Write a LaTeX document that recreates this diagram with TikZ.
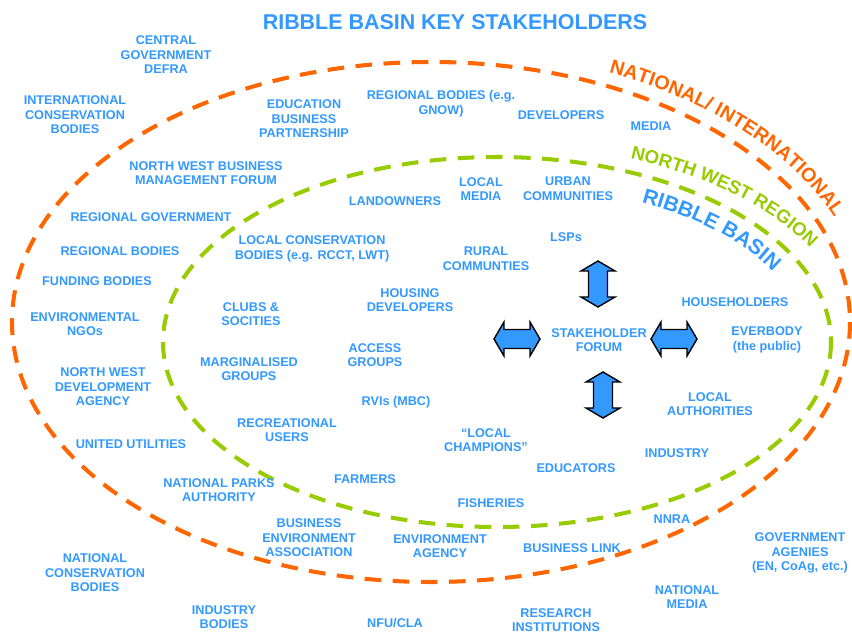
\documentclass[tikz,border=0pt]{standalone}
\usepackage{fontspec}
\setmainfont{Liberation Sans}
\usetikzlibrary{decorations.text}
\definecolor{bleuR}{HTML}{3399FF}
\definecolor{orangeN}{HTML}{FF6600}
\definecolor{vertNO}{HTML}{99CC00}

\begin{document}
\begin{tikzpicture}[x=0.2mm,y=-0.2mm]
\tikzstyle{acteur}=[inner sep=0pt,align=center,text=bleuR,font=\bfseries\fontsize{7.2}{8.3}\selectfont]
\tikzset{bord/.style={draw=#1,line width=2.3pt,dash pattern=on 9.5pt off 6.5pt},
fleche/.pic={\draw[fill=bleuR,line width=0.8pt] (-23,0) -- (-13,-17) -- (-13,-9.5) -- (13,-9.5) -- (13,-17) -- (23,0) -- (13,17) -- (13,9.5) -- (-13,9.5) -- (-13,17) -- cycle;}}

\fill[white] (0,0) rectangle (852,632);
\useasboundingbox (0,0) rectangle (852,632);

% les deux cercles en pointilles
\draw[bord=orangeN] (431,322) ellipse [x radius=419,y radius=260];
\draw[bord=vertNO] (497,342) ellipse [x radius=334,y radius=185];

% titres courbes
\path[decorate,decoration={text along path,text align=left,
  text={|\bfseries\fontsize{11.2}{13}\selectfont\color{orangeN}|NATIONAL/ INTERNATIONAL}}]
  (431,322) ++(-66:437 and 273) arc[start angle=-66,end angle=-5,x radius=437,y radius=273];
\path[decorate,decoration={text along path,text align=left,
  text={|\bfseries\fontsize{10.6}{12}\selectfont\color{vertNO}|NORTH WEST REGION}}]
  (497,342) ++(-68:356 and 198) arc[start angle=-68,end angle=-10,x radius=356,y radius=198];
\path[decorate,decoration={text along path,text align=left,
  text={|\bfseries\fontsize{12}{14}\selectfont\color{bleuR}|RIBBLE BASIN}}]
  (497,342) ++(-62:308 and 158) arc[start angle=-62,end angle=-10,x radius=308,y radius=158];

\node[font=\bfseries\fontsize{12.2}{14}\selectfont,text=bleuR] (titre) at (455,22) {RIBBLE BASIN KEY STAKEHOLDERS};

% le forum et ses fleches
\node[acteur] (forum) at (599,340) {STAKEHOLDER\\FORUM};
\pic[rotate=90] (haut) at (598,284) {fleche};
\pic[rotate=90] (bas) at (603,395) {fleche};
\pic (gauche) at (517,339) {fleche};
\pic (droite) at (674,339) {fleche};

% acteurs
\node[acteur] (defra) at (166,55) {CENTRAL\\GOVERNMENT\\DEFRA};
\node[acteur] (intcons) at (75,115) {INTERNATIONAL\\CONSERVATION\\BODIES};
\node[acteur] (ebp) at (304,119) {EDUCATION\\BUSINESS\\PARTNERSHIP};
\node[acteur] (gnow) at (441,104) {REGIONAL BODIES (e.g.\\GNOW)};
\node[acteur] (dev) at (561,115) {DEVELOPERS};
\node[acteur] (media) at (651,126) {MEDIA};
\node[acteur] (nwbmf) at (206,173) {NORTH WEST BUSINESS\\MANAGEMENT FORUM};
\node[acteur] (land) at (395,201) {LANDOWNERS};
\node[acteur] (lmedia) at (481,189) {LOCAL\\MEDIA};
\node[acteur] (urban) at (568,189) {URBAN\\COMMUNITIES};
\node[acteur] (reggov) at (151,217) {REGIONAL GOVERNMENT};
\node[acteur] (lcb) at (312,249) {LOCAL CONSERVATION\\BODIES (e.g. RCCT, LWT)};
\node[acteur] (lsp) at (566,237) {LSPs};
\node[acteur] (rural) at (486,259) {RURAL\\COMMUNTIES};
\node[acteur] (regbod) at (120,251) {REGIONAL BODIES};
\node[acteur] (fund) at (97,281) {FUNDING BODIES};
\node[acteur] (housing) at (410,300) {HOUSING\\DEVELOPERS};
\node[acteur] (ngo) at (85,324) {ENVIRONMENTAL\\NGOs};
\node[acteur] (clubs) at (251,314) {CLUBS \&\\SOCITIES};
\node[acteur] (house) at (735,302) {HOUSEHOLDERS};
\node[acteur] (public) at (767,340) {EVERBODY\\(the public)};
\node[acteur] (marg) at (249,369) {MARGINALISED\\GROUPS};
\node[acteur] (access) at (375,355) {ACCESS\\GROUPS};
\node[acteur] (nwda) at (103,387) {NORTH WEST\\DEVELOPMENT\\AGENCY};
\node[acteur] (rvi) at (396,402) {RVIs (MBC)};
\node[acteur] (la) at (710,404) {LOCAL\\AUTHORITIES};
\node[acteur] (recr) at (287,430) {RECREATIONAL\\USERS};
\node[acteur] (uu) at (131,444) {UNITED UTILITIES};
\node[acteur] (champ) at (486,440) {“LOCAL\\CHAMPIONS”};
\node[acteur] (ind) at (677,453) {INDUSTRY};
\node[acteur] (educ) at (576,468) {EDUCATORS};
\node[acteur] (farm) at (365,479) {FARMERS};
\node[acteur] (npa) at (219,490) {NATIONAL PARKS\\AUTHORITY};
\node[acteur] (fish) at (491,503) {FISHERIES};
\node[acteur] (nnra) at (672,519) {NNRA};
\node[acteur] (bea) at (309,538) {BUSINESS\\ENVIRONMENT\\ASSOCIATION};
\node[acteur] (ea) at (440,546) {ENVIRONMENT\\AGENCY};
\node[acteur] (bl) at (572,548) {BUSINESS LINK};
\node[acteur] (gov) at (800,553) {GOVERNMENT\\AGENIES\\(EN, CoAg, etc.)};
\node[acteur] (natcons) at (95,573) {NATIONAL\\CONSERVATION\\BODIES};
\node[acteur] (nmedia) at (687,597) {NATIONAL\\MEDIA};
\node[acteur] (indb) at (224,617) {INDUSTRY\\BODIES};
\node[acteur] (nfu) at (395,623) {NFU/CLA};
\node[acteur] (research) at (556,620) {RESEARCH\\INSTITUTIONS};

\end{tikzpicture}
\end{document}
